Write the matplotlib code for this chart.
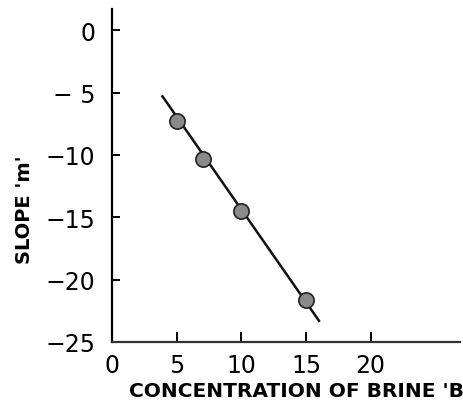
import matplotlib.pyplot as plt

# measured points
conc = [5, 7, 10, 15]
slope = [-7.3, -10.3, -14.5, -21.6]

# hand-drawn fitted line ends
fit_x = [3.9, 16.0]
fit_y = [-5.3, -23.3]

xticks = [0, 5, 10, 15, 20]
xticklabels = ['0', '5', '10', '15', '20']
yticks = [0, -5, -10, -15, -20, -25]
yticklabels = ['0', '\u2212 5', '\u221210', '\u221215', '\u221220', '\u221225']

plt.rcParams['font.family'] = ['DejaVu Sans']

fig = plt.figure(figsize=(4.64, 4.1), dpi=100)
W, H = 464, 410
ax = fig.add_axes([112 / W, (H - 343) / H, (460 - 112) / W, (343 - 10) / H])

ax.plot(fit_x, fit_y, color='#111111', lw=1.8, zorder=2)
ax.plot(conc, slope, 'o', ms=11, mfc='#8a8a8a', mec='#222222', mew=1.2, zorder=3)

ax.set_xlim(0, 26.9)
ax.set_ylim(-25, 1.7)

ax.spines['top'].set_visible(False)
ax.spines['right'].set_visible(False)
ax.spines['left'].set_linewidth(1.6)
ax.spines['bottom'].set_linewidth(1.6)
ax.spines['bottom'].set_color('#333333')

ax.set_xticks(xticks)
ax.set_xticklabels(xticklabels, fontsize=17)
ax.set_yticks(yticks)
ax.set_yticklabels(yticklabels, fontsize=17)
ax.tick_params(axis='x', direction='in', length=7, width=1.4, pad=8)
ax.tick_params(axis='y', direction='in', length=6, width=1.4, pad=12)
# no visible marks on the corner ticks
ax.xaxis.get_major_ticks()[0].tick1line.set_visible(False)
ax.yaxis.get_major_ticks()[-1].tick1line.set_visible(False)

ax.set_xlabel("CONCENTRATION OF BRINE 'B", fontsize=14.5, fontweight='bold',
              labelpad=3, x=0.53)
ax.set_ylabel("SLOPE 'm'", fontsize=14, fontweight='bold', labelpad=8, y=0.40)

fig.savefig('out.png', dpi=100)
